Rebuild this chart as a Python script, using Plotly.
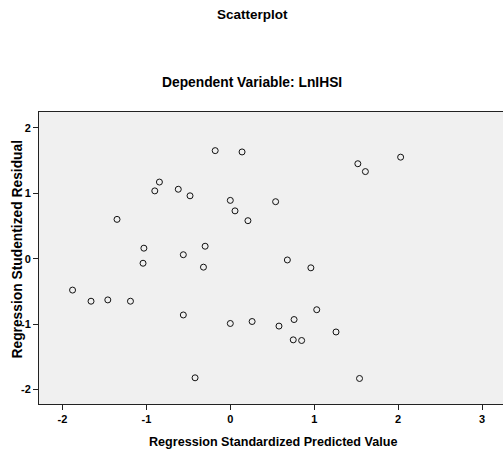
import plotly.graph_objects as go

predicted = [-0.18, 0.14, -0.845, -0.90, -0.62, -0.48, 0.0, 0.056, 0.21, -1.35,
             -1.03, -0.30, -0.56, -1.04, -0.32, -1.88, 1.52, 1.61, 2.03, 0.54,
             0.68, 0.96, -1.66, -1.46, -1.19, -0.56, 0.0, 0.26, -0.42, 0.58,
             0.76, 1.03, 1.26, 0.75, 0.85, 1.54]
residual = [1.65, 1.63, 1.17, 1.035, 1.06, 0.96, 0.89, 0.73, 0.58, 0.60,
            0.16, 0.19, 0.06, -0.07, -0.13, -0.48, 1.45, 1.33, 1.55, 0.87,
            -0.02, -0.14, -0.65, -0.63, -0.65, -0.86, -0.99, -0.96, -1.82, -1.03,
            -0.93, -0.78, -1.12, -1.24, -1.25, -1.83]
x_ticks = [-2, -1, 0, 1, 2, 3]
y_ticks = [-2, -1, 0, 1, 2]

FONT = "Liberation Sans, Arial, sans-serif"
L, T, W, H = 39, 112, 464, 292

fig = go.Figure()
fig.add_trace(go.Scatter(
    x=predicted, y=residual, mode="markers",
    marker=dict(symbol="circle-open", size=6, color="#111111", line=dict(width=1, color="#111111")),
    showlegend=False, hoverinfo="x+y",
))

def ann(text, px, py, size, angle=0):
    return dict(text=f"<b>{text}</b>", xref="paper", yref="paper",
                x=(px - L) / W, y=(T + H - py) / H, xanchor="center", yanchor="middle",
                showarrow=False, textangle=angle,
                font=dict(size=size, family=FONT, color="black"))

fig.update_layout(
    width=503, height=455,
    margin=dict(l=L, r=503 - L - W, t=T, b=455 - T - H),
    paper_bgcolor="white", plot_bgcolor="#f0f0f0",
    font=dict(family=FONT, color="black"),
    annotations=[
        ann("Scatterplot", 252, 15, 13.5),
        ann("Dependent Variable: LnIHSI", 251.5, 82, 13.8),
        ann("Regression Standardized Predicted Value", 272.5, 442, 12.6),
        ann("Regression Studentized Residual", 16.5, 249, 13.8, angle=-90),
    ],
)
fig.update_xaxes(
    range=[-2.28, 3.25], tickvals=x_ticks, ticktext=[f"<b>{v}</b>" for v in x_ticks],
    showgrid=False, zeroline=False, showline=True, linecolor="#222222", linewidth=1,
    mirror=True, ticks="outside", ticklen=5, tickcolor="#222222",
    tickfont=dict(size=11, family=FONT, color="black"),
)
fig.update_yaxes(
    range=[-2.22, 2.24], tickvals=y_ticks, ticktext=[f"<b>{v}</b>" for v in y_ticks],
    showgrid=False, zeroline=False, showline=True, linecolor="#222222", linewidth=1,
    mirror=True, ticks="outside", ticklen=5, tickcolor="#222222",
    tickfont=dict(size=11, family=FONT, color="black"),
)

fig.write_html("out.html", config={"displayModeBar": False},
               post_script="document.body.style.margin='0';document.body.style.overflow='hidden';")
